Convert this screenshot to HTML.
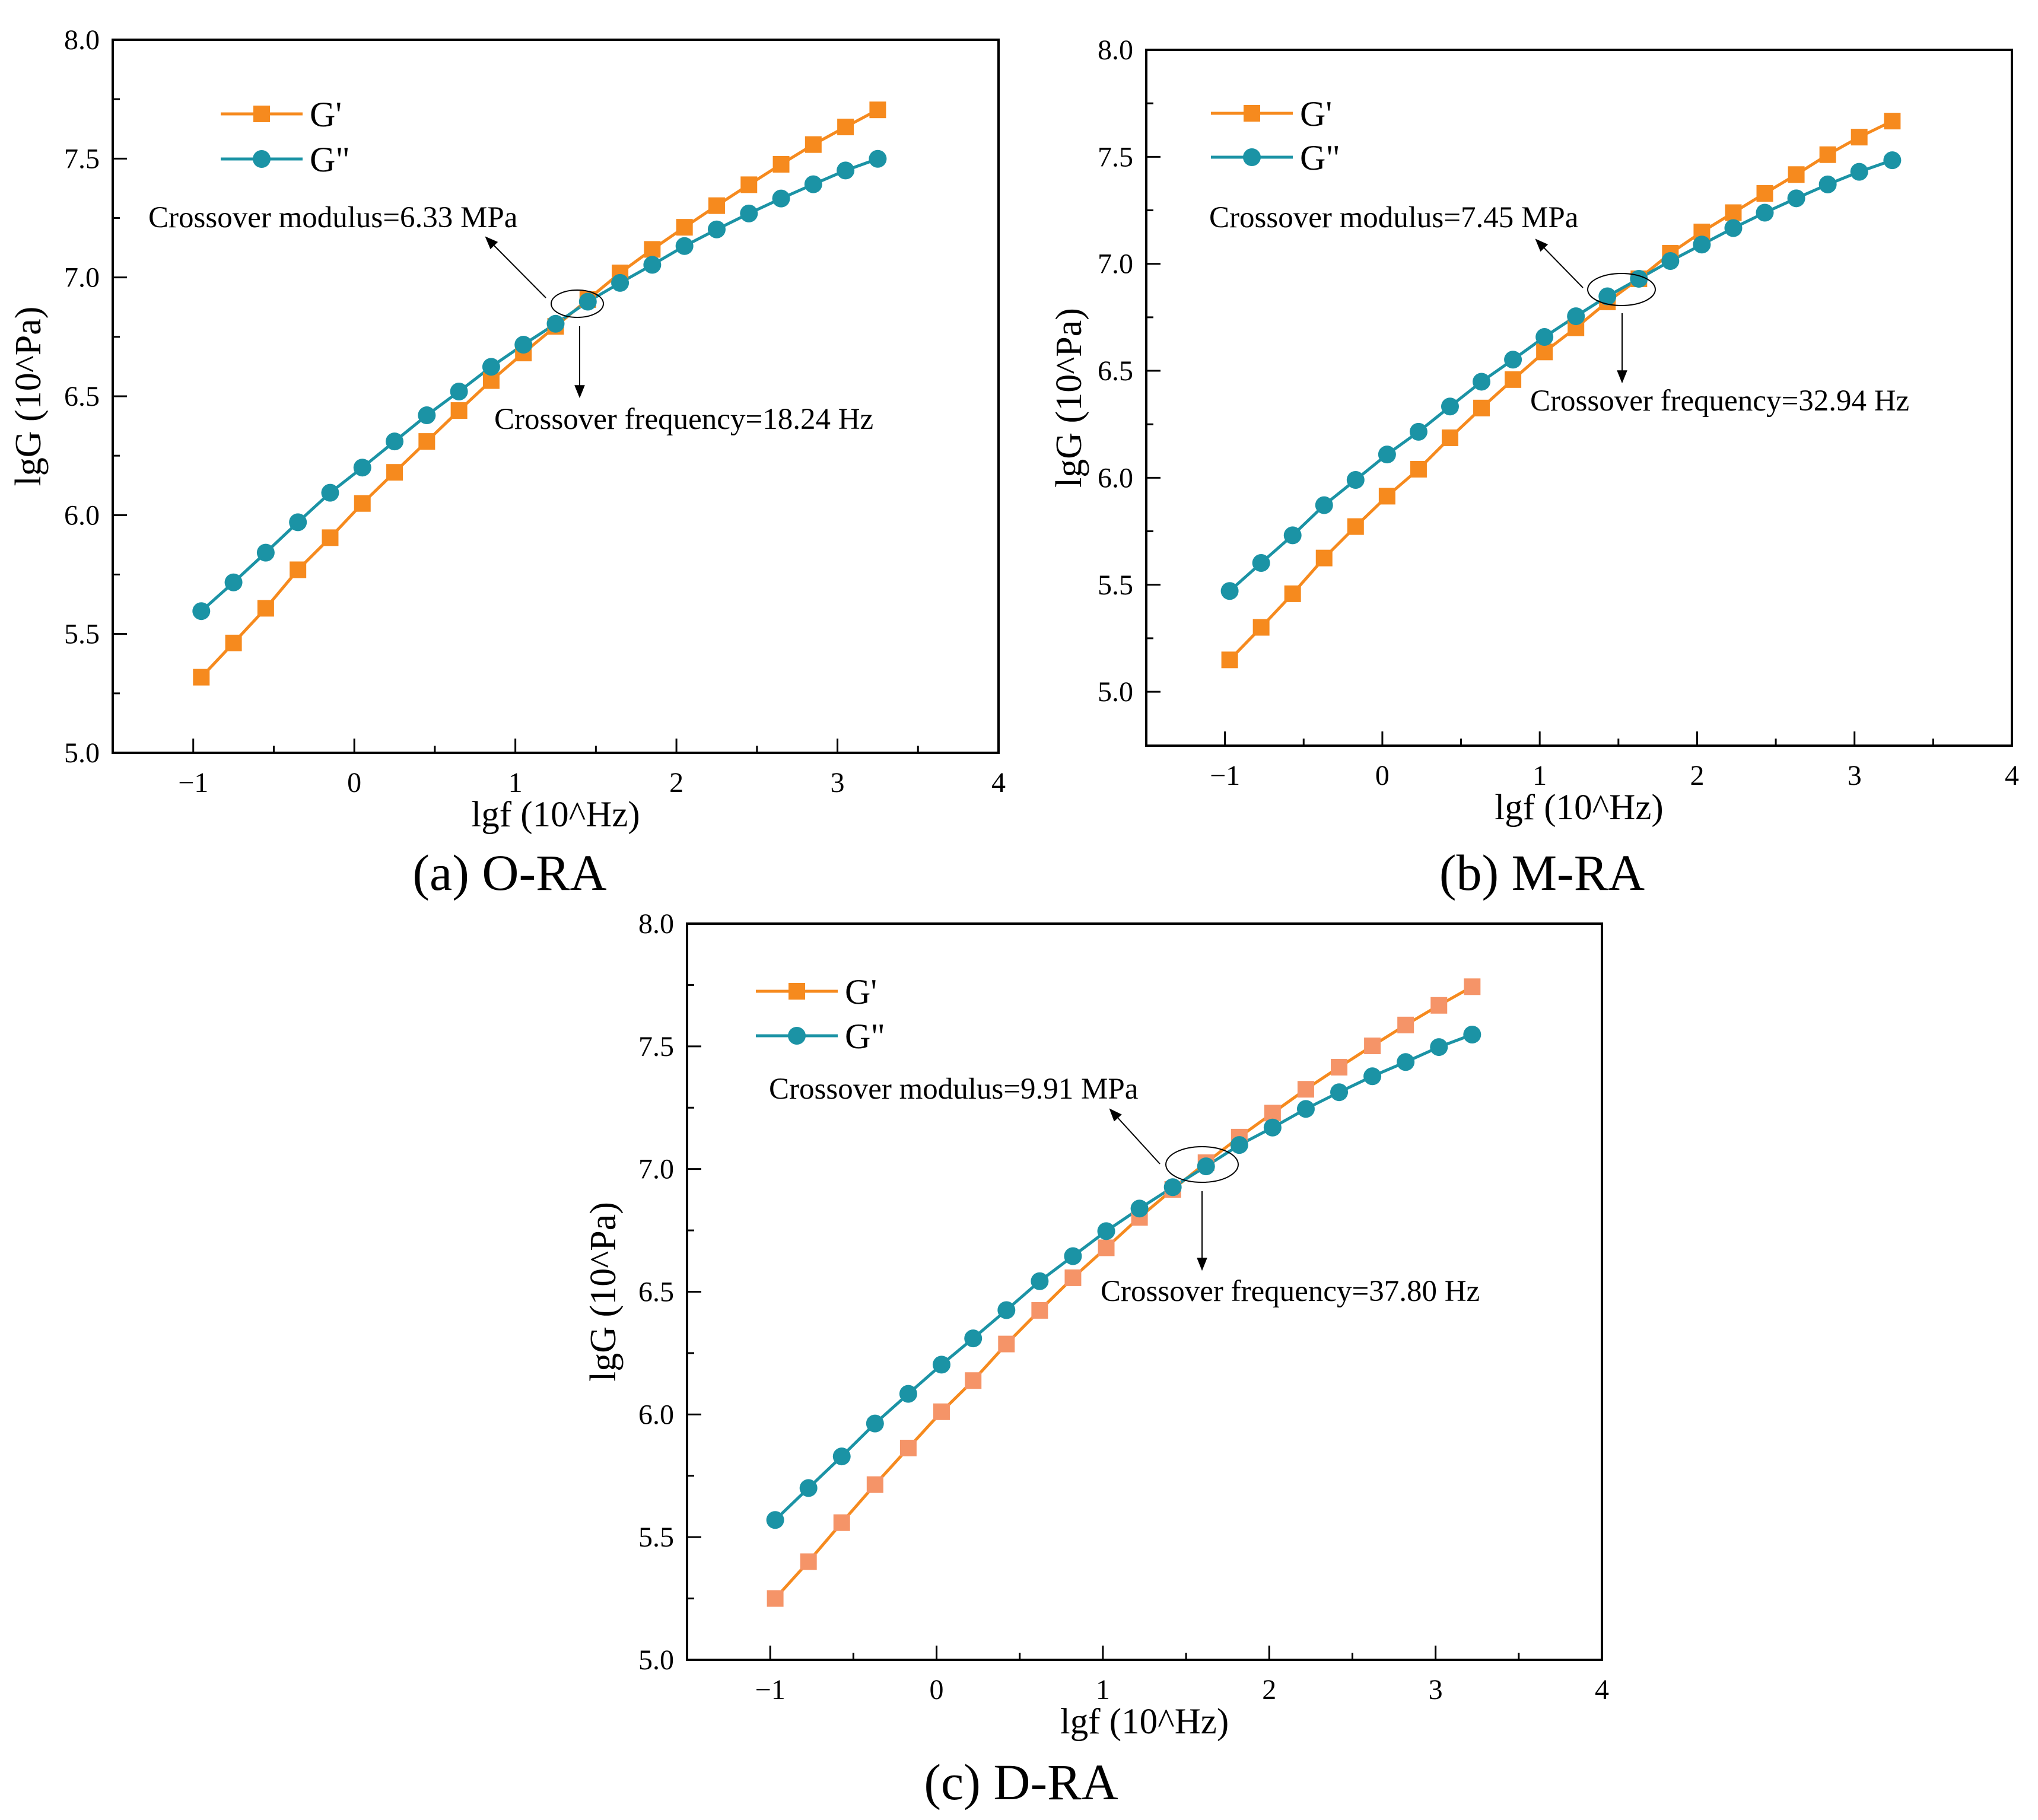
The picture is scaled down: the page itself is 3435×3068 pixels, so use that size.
<!DOCTYPE html>
<html><head><meta charset="utf-8"><style>
html,body{margin:0;padding:0;background:#fff;}
svg{display:block;font-family:"Liberation Serif",serif;}
</style></head><body>
<svg id="fig" width="3435" height="3068" viewBox="0 0 3435 3068" xmlns="http://www.w3.org/2000/svg">
<defs>
<marker id="ah2" viewBox="0 0 10 10" markerWidth="22" markerHeight="22" refX="9" refY="5" orient="auto" markerUnits="userSpaceOnUse"><path d="M0,1 L10,5 L0,9 z" fill="#000"/></marker></defs>
</svg>
<script>
const xTicks = [-1, 0, 1, 2, 3, 4];
const yTicks = [5.0, 5.5, 6.0, 6.5, 7.0, 7.5, 8.0];
const xA = [-0.95,-0.75,-0.55,-0.35,-0.15,0.05,0.25,0.45,0.65,0.85,1.05,1.25,1.45,1.65,1.85,2.05,2.25,2.45,2.65,2.85,3.05,3.25];
const gpA = [5.318,5.462,5.608,5.77,5.905,6.049,6.18,6.31,6.44,6.566,6.682,6.794,6.907,7.019,7.118,7.211,7.302,7.39,7.476,7.559,7.633,7.705];
const gppA = [5.596,5.717,5.842,5.97,6.094,6.20,6.31,6.42,6.52,6.624,6.717,6.805,6.898,6.977,7.053,7.132,7.202,7.269,7.332,7.392,7.45,7.499];
const xB = [-0.97,-0.77,-0.57,-0.37,-0.17,0.03,0.23,0.43,0.63,0.83,1.03,1.23,1.43,1.63,1.83,2.03,2.23,2.43,2.63,2.83,3.03,3.24];
const gpB = [5.149,5.301,5.458,5.625,5.772,5.914,6.04,6.187,6.326,6.459,6.588,6.701,6.822,6.93,7.049,7.149,7.239,7.329,7.417,7.51,7.592,7.667];
const gppB = [5.471,5.602,5.731,5.872,5.99,6.109,6.215,6.333,6.449,6.552,6.658,6.755,6.848,6.93,7.013,7.09,7.167,7.239,7.306,7.371,7.43,7.484];
const xC = [-0.97,-0.77,-0.57,-0.37,-0.17,0.03,0.22,0.42,0.62,0.82,1.02,1.22,1.42,1.62,1.82,2.02,2.22,2.42,2.62,2.82,3.02,3.22];
const gpC = [5.25,5.40,5.559,5.714,5.863,6.011,6.138,6.287,6.424,6.557,6.679,6.803,6.917,7.026,7.13,7.228,7.325,7.415,7.502,7.587,7.667,7.743];
const gppC = [5.57,5.70,5.829,5.963,6.084,6.203,6.31,6.425,6.543,6.645,6.747,6.839,6.926,7.011,7.098,7.169,7.245,7.313,7.378,7.436,7.497,7.548];
const annA = ["Crossover modulus=6.33 MPa","Crossover frequency=18.24 Hz","(a) O-RA"];
const annB = ["Crossover modulus=7.45 MPa","Crossover frequency=32.94 Hz","(b) M-RA"];
const annC = ["Crossover modulus=9.91 MPa","Crossover frequency=37.80 Hz","(c) D-RA"];

const NS="http://www.w3.org/2000/svg";
const svg=document.getElementById('fig');
function mk(tag,attrs,parent){const e=document.createElementNS(NS,tag);for(const k in attrs)e.setAttribute(k,attrs[k]);(parent||svg).appendChild(e);return e;}
const OR="#F68A1E", TE="#1B93A5";

function panel(id,P,xs,gp,gpp,ann,L){
  const g=mk('g',{});
  
  
  const X=v=>P.l+(v-P.x0)/(P.x1-P.x0)*(P.r-P.l);
  const Y=v=>P.b-(v-P.y0)/(P.y1-P.y0)*(P.b-P.t);
  const box=mk('rect',{x:P.l,y:P.t,width:P.r-P.l,height:P.b-P.t,fill:'none',stroke:'#000','stroke-width':4},g);
  
  
  xTicks.forEach((t,i)=>{
    const x=X(t);
    if(t>P.x0&&t<P.x1){mk('line',{x1:x,x2:x,y1:P.b,y2:P.b-24,stroke:'#000','stroke-width':3},g);}
    if(t+0.5<P.x1){const xm=X(t+0.5);mk('line',{x1:xm,x2:xm,y1:P.b,y2:P.b-12,stroke:'#000','stroke-width':3},g);}
    const tx=mk('text',{x:x,y:P.b+66,'font-size':48,'text-anchor':'middle'},g);
    tx.textContent=t<0?'\u2212'+Math.abs(t):String(t);
    
    
  });
  yTicks.forEach(t=>{
    const y=Y(t);
    if(t<P.y1){mk('line',{x1:P.l,x2:P.l+24,y1:y,y2:y,stroke:'#000','stroke-width':3},g);
      const ym=Y(t+0.25);mk('line',{x1:P.l,x2:P.l+12,y1:ym,y2:ym,stroke:'#000','stroke-width':3},g);}
    const ty=mk('text',{x:P.l-22,y:y+16,'font-size':48,'text-anchor':'end'},g);
    ty.textContent=t.toFixed(1);
    
    
  });
  const xt=mk('text',{x:(P.l+P.r)/2,y:P.b+124,'font-size':61,'text-anchor':'middle'},g);
  xt.textContent='lgf (10^Hz)';
  
  
  const yc=(P.t+P.b)/2;
  const yt=mk('text',{x:L.ytx,y:yc,'font-size':62,'text-anchor':'middle',transform:`rotate(-90 ${L.ytx} ${yc})`},g);
  yt.textContent='lgG (10^Pa)';
  
  
  const ptsP=xs.map((v,i)=>X(v)+','+Y(gp[i])).join(' ');
  const ptsPP=xs.map((v,i)=>X(v)+','+Y(gpp[i])).join(' ');
  const l1=mk('polyline',{points:ptsP,fill:'none',stroke:OR,'stroke-width':5},g);
  
  
  const l2=mk('polyline',{points:ptsPP,fill:'none',stroke:TE,'stroke-width':5},g);
  
  
  xs.forEach((v,i)=>{
    const s=mk('rect',{x:X(v)-14,y:Y(gp[i])-14,width:28,height:28,fill:L.sq},g);
    
    
    const c=mk('circle',{cx:X(v),cy:Y(gpp[i]),r:15,fill:TE},g);
    
    
  });
  const lg=mk('g',{},g);
  
  
  mk('line',{x1:L.lx,x2:L.lx+138,y1:L.ly1,y2:L.ly1,stroke:OR,'stroke-width':5},lg);
  mk('rect',{x:L.lx+55,y:L.ly1-14,width:28,height:28,fill:OR},lg);
  const t1=mk('text',{x:L.lx+150,y:L.ly1+21,'font-size':60},lg);t1.textContent="G'";
  
  
  mk('line',{x1:L.lx,x2:L.lx+138,y1:L.ly2,y2:L.ly2,stroke:TE,'stroke-width':5},lg);
  mk('circle',{cx:L.lx+69,cy:L.ly2,r:15,fill:TE},lg);
  const t2=mk('text',{x:L.lx+150,y:L.ly2+21,'font-size':60},lg);t2.textContent='G"';
  
  
  const m=mk('text',{x:L.mx,y:L.my,'font-size':51},g);m.textContent=ann[0];
  
  
  mk('line',{x1:L.a1[0],y1:L.a1[1],x2:L.a1[2],y2:L.a1[3],stroke:'#000','stroke-width':2,'marker-end':'url(#ah2)'},g);
  const el=mk('ellipse',{cx:L.e[0],cy:L.e[1],rx:L.e[2],ry:L.e[3],fill:'none',stroke:'#000','stroke-width':2},g);
  
  
  mk('line',{x1:L.a2[0],y1:L.a2[1],x2:L.a2[0],y2:L.a2[2],stroke:'#000','stroke-width':2,'marker-end':'url(#ah2)'},g);
  const f=mk('text',{x:L.fx,y:L.fy,'font-size':51},g);f.textContent=ann[1];
  
  
  const cap=mk('text',{x:L.cx,y:L.cy,'font-size':86,'text-anchor':'middle'},g);cap.textContent=ann[2];
  
  
}

panel('panel-a',{l:190,r:1683,t:67,b:1269,x0:-1.5,x1:4,y0:5,y1:8},xA,gpA,gppA,annA,
 {ytx:68,sq:OR,lx:372,ly1:192,ly2:268,mx:250,my:383,a1:[920,502,819,400],e:[973,512,44,23],a2:[977,550,669],fx:833,fy:723,cx:859,cy:1500});
panel('panel-b',{l:1932,r:3391,t:84,b:1257,x0:-1.5,x1:4,y0:4.748,y1:8},xB,gpB,gppB,annB,
 {ytx:1822,sq:OR,lx:2041,ly1:191,ly2:265,mx:2038,my:383,a1:[2668,485,2589,404],e:[2733,488,57,27],a2:[2734,528,644],fx:2579,fy:692,cx:2599,cy:1500});
panel('panel-c',{l:1158,r:2700,t:1557,b:2798,x0:-1.5,x1:4,y0:5,y1:8},xC,gpC,gppC,annC,
 {ytx:1037,sq:"#F59468",lx:1274,ly1:1671,ly2:1746,mx:1296,my:1852,a1:[1955,1962,1871,1870],e:[2026,1963,61,30],a2:[2026,2008,2140],fx:1855,fy:2193,cx:1721,cy:3033});
</script>
</body></html>
